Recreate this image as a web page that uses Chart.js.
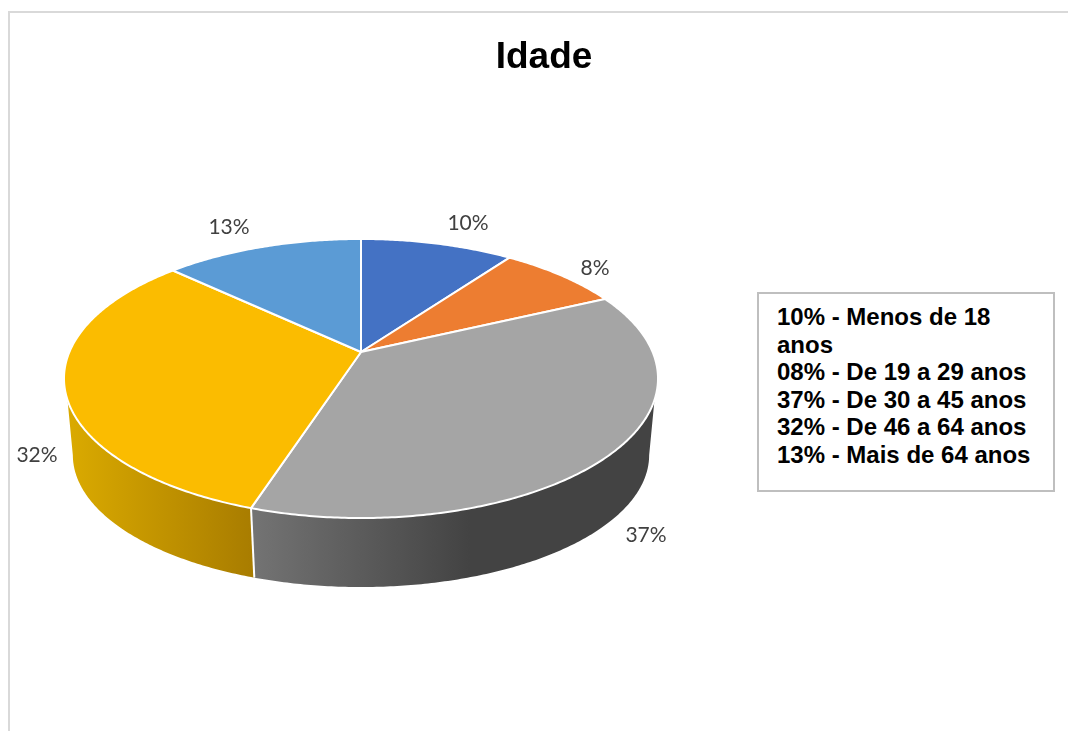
<!DOCTYPE html>
<html lang="pt">
<head>
<meta charset="utf-8">
<title>Idade</title>
<script src="https://cdn.jsdelivr.net/npm/chart.js@4"></script>
<style>
  html, body { margin: 0; background: #fff; overflow: hidden; }
  #frame { position: absolute; left: 8px; top: 11px; width: 1200px; height: 900px; border: 2px solid #d9d9d9; }
  #chart { position: absolute; left: 0; top: 0; }
  #legend-box {
    position: absolute; left: 757px; top: 292px; width: 268px; height: 184px;
    padding: 9px 8px 3px 18px; border: 2px solid #bfbfbf; background: #fff;
    font: bold 24px/27.5px "Liberation Sans", Arial, sans-serif; color: #000;
  }
</style>
</head>
<body>
<div id="frame"></div>
<canvas id="chart" width="1068" height="731"></canvas>
<div id="legend-box"></div>
<script>
const ageGroups = ['Menos de 18 anos', 'De 19 a 29 anos', 'De 30 a 45 anos', 'De 46 a 64 anos', 'Mais de 64 anos'];
const shares = [10, 8, 37, 32, 13];
const legendPrefixes = ['10%', '08%', '37%', '32%', '13%'];
const sliceColors = ['#4472c4', '#ed7d31', '#a5a5a5', '#fbbc00', '#5b9bd5'];

// side wall shading per slice, left to right (only the front slices show)
const wallColors = { 2: ['#737373', '#434343'], 3: ['#d9a900', '#a87c00'] };

// pie label centres, same order as shares
const labelAt = [[468, 223], [595, 268], [646, 535], [37, 455], [229, 227]];

document.getElementById('legend-box').innerHTML =
  ageGroups.map((g, i) => `<div>${legendPrefixes[i]} - ${g}</div>`).join('');

// perspective projection of the flat pie: tip of the slices sits above the ellipse centre
const top3d = { x: 361, y: 352, kx: 291.6, ky: 134.5 };
const bottom3d = { x: 361, y: 430, kx: 282.9, ky: 127.2 };
const tilt = -0.19;

function project(p, a) {
  const d = 1 + tilt * Math.sin(a);
  return [p.x + p.kx * Math.cos(a) / d, p.y + p.ky * Math.sin(a) / d];
}

function rim(ctx, p, from, to) {
  const n = Math.max(2, Math.ceil(Math.abs(to - from) / 0.01));
  for (let i = 0; i <= n; i++) {
    const pt = project(p, from + (to - from) * i / n);
    ctx.lineTo(pt[0], pt[1]);
  }
}

const deg = Math.PI / 180;
const pie3d = {
  id: 'pie3d',
  // replace the flat arcs by projected ones, angles still come from the arc elements
  beforeDatasetsDraw(chart) {
    const ctx = chart.ctx;
    const arcs = chart.getDatasetMeta(0).data;
    const wallFrom = 19.5 * deg, wallTo = 160.5 * deg;

    ctx.save();
    arcs.forEach((arc, i) => {
      if (!wallColors[i]) return;
      const s = Math.max(arc.startAngle, wallFrom), e = Math.min(arc.endAngle, wallTo);
      if (e <= s) return;
      const bs = s === wallFrom ? 11 * deg : s;
      const be = e === wallTo ? 169 * deg : e;
      const xa = project(bottom3d, be)[0], xb = project(bottom3d, bs)[0];
      const g = ctx.createLinearGradient(xa, 0, i === 2 ? 470 : xb, 0);
      g.addColorStop(0, wallColors[i][0]);
      g.addColorStop(1, wallColors[i][1]);
      ctx.beginPath();
      rim(ctx, top3d, s, e);
      rim(ctx, bottom3d, be, bs);
      ctx.closePath();
      ctx.fillStyle = g;
      ctx.fill();
    });

    // seam between the visible wall pieces
    const seam = arcs[2].endAngle;
    ctx.beginPath();
    ctx.moveTo(...project(top3d, seam));
    ctx.lineTo(...project(bottom3d, seam));
    ctx.strokeStyle = '#fff';
    ctx.lineWidth = 2;
    ctx.stroke();

    arcs.forEach((arc, i) => {
      ctx.beginPath();
      ctx.moveTo(top3d.x, top3d.y);
      rim(ctx, top3d, arc.startAngle, arc.endAngle);
      ctx.closePath();
      ctx.fillStyle = sliceColors[i];
      ctx.fill();
      ctx.strokeStyle = '#fff';
      ctx.lineWidth = 2;
      ctx.lineJoin = 'round';
      ctx.stroke();
    });

    ctx.font = '21px Lato, "Open Sans", sans-serif';
    ctx.fillStyle = '#404040';
    ctx.textAlign = 'center';
    ctx.textBaseline = 'middle';
    shares.forEach((v, i) => ctx.fillText(v + '%', labelAt[i][0], labelAt[i][1]));
    ctx.restore();
    return false;
  }
};

new Chart(document.getElementById('chart'), {
  type: 'pie',
  data: {
    labels: ageGroups,
    datasets: [{ data: shares, backgroundColor: sliceColors }]
  },
  options: {
    responsive: false,
    animation: false,
    layout: { padding: { left: 20 } },
    events: [],
    plugins: {
      legend: { display: false },
      tooltip: { enabled: false },
      title: {
        display: true,
        text: 'Idade',
        color: '#000',
        font: { family: '"Liberation Sans", Arial, sans-serif', size: 37, weight: 'bold' },
        padding: { top: 36, bottom: 0 }
      }
    }
  },
  plugins: [pie3d]
});
</script>
</body>
</html>
